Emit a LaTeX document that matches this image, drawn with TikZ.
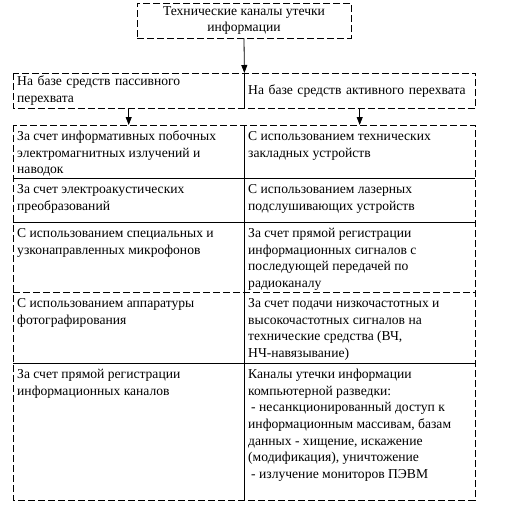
\documentclass[tikz,border=0pt]{standalone}
\usepackage{fontspec}
\setmainfont{Liberation Serif}
\usetikzlibrary{arrows.meta}
\begin{document}
\begin{tikzpicture}[x=1pt,y=-1pt,
  txt/.style={font=\fontsize{13.6}{16.7}\selectfont},
  frame/.style={line width=0.9pt, dash pattern=on 7pt off 3pt},
  sepline/.style={line width=0.8pt},
  dsep/.style={line width=0.8pt, dash pattern=on 7pt off 3pt},
  cell/.style={txt, anchor=north west, inner sep=0pt, align=left},
  head/.style={txt, anchor=north west, minimum width=231pt, minimum height=35pt,
    text width=223pt, inner xsep=4pt, inner ysep=0pt, align=left},
  arr/.style={line width=0.8pt, -{Triangle[length=8pt,width=6pt]}}
]
\useasboundingbox (0,0) rectangle (507,506);

% top box
\node[txt, draw, frame, minimum width=214pt, minimum height=35pt, align=center,
  inner sep=0pt] (top) at (244,20.5) {Технические каналы утечки\\информации};

% second row
\node[head] (pas) at (13,73) {На базе средств пассивного\\перехвата};
\node[head] (act) at (244,73) {На базе средств активного перехвата};
\draw[frame] (pas.north west) rectangle (act.south east);
\draw[sepline] (pas.north east) -- (pas.south east);

% table frame
\coordinate (tNW) at (13,125);
\coordinate (tSE) at (475,500);
\coordinate (cTop) at (244,125);
\coordinate (s1) at (13,178);
\coordinate (s2) at (13,222);
\coordinate (s3) at (13,292);
\coordinate (s4) at (13,363);

% arrows
\draw[arr] (top.south) -- (pas.north east);
\draw[arr] (pas.south) -- (pas.south |- tNW);
\draw[arr] (act.south) -- (act.south |- tNW);

\draw[frame] (tNW) rectangle (tSE);
\draw[sepline] (cTop) -- (cTop |- tSE);
\draw[sepline] (s1) -- (s1 -| tSE);
\draw[sepline] (s2) -- (s2 -| tSE);
\draw[dsep] (s3) -- (s3 -| tSE);
\draw[sepline] (s4) -- (s4 -| tSE);

% left column
\node[cell] (l1) at (17,128.5) {\strut За счет информативных побочных\\электромагнитных излучений и\\наводок};
\node[cell] (l2) at (17,181.5) {\strut За счет электроакустических\\преобразований};
\node[cell] (l3) at (17,225.5) {\strut С использованием специальных и\\узконаправленных микрофонов};
\node[cell] (l4) at (17,295.5) {\strut С использованием аппаратуры\\фотографирования};
\node[cell] (l5) at (17,366.5) {\strut За счет прямой регистрации\\информационных каналов};

% right column
\node[cell] (r1) at (248,128.5) {\strut С использованием технических\\закладных устройств};
\node[cell] (r2) at (248,181.5) {\strut С использованием лазерных\\подслушивающих устройств};
\node[cell] (r3) at (248,225.5) {\strut За счет прямой регистрации\\информационных сигналов с\\последующей передачей по\\радиоканалу};
\node[cell] (r4) at (248,295.5) {\strut За счет подачи низкочастотных и\\высокочастотных сигналов на\\технические средства (ВЧ,\\НЧ-навязывание)};
\node[cell] (r5) at (248,366.5) {\strut Каналы утечки информации\\компьютерной разведки:\\\hspace*{3pt}- несанкционированный доступ к\\информационным массивам, базам\\данных - хищение, искажение\\(модификация), уничтожение\\\hspace*{3pt}- излучение мониторов ПЭВМ};
\end{tikzpicture}
\end{document}
